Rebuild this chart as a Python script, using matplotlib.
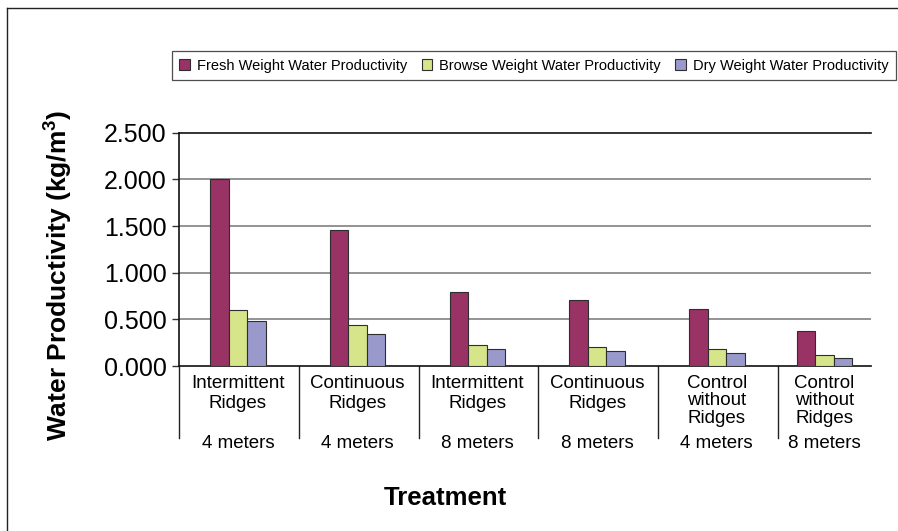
import matplotlib

matplotlib.use("Agg")
import matplotlib.pyplot as plt
from matplotlib.lines import Line2D
from matplotlib.patches import Patch
import numpy as np

plt.rcParams["font.family"] = ["Liberation Sans", "DejaVu Sans"]
plt.rcParams["mathtext.fontset"] = "custom"
plt.rcParams["mathtext.rm"] = "Liberation Sans"
plt.rcParams["mathtext.bf"] = "Liberation Sans:bold"

treatments = [
    "Intermittent\nRidges",
    "Continuous\nRidges",
    "Intermittent\nRidges",
    "Continuous\nRidges",
    "Control\nwithout\nRidges",
    "Control\nwithout\nRidges",
]
spacings = ["4 meters", "4 meters", "8 meters", "8 meters", "4 meters", "8 meters"]

series_names = [
    "Fresh Weight Water Productivity",
    "Browse Weight Water Productivity",
    "Dry Weight Water Productivity",
]
fresh = [2.000, 1.457, 0.790, 0.707, 0.607, 0.379]
browse = [0.603, 0.436, 0.221, 0.200, 0.182, 0.121]
dry = [0.479, 0.343, 0.179, 0.164, 0.143, 0.086]

colors = ["#993366", "#d6e48a", "#9999cc"]
yticks = [0.0, 0.5, 1.0, 1.5, 2.0, 2.5]

fig = plt.figure(figsize=(8.98, 5.31), dpi=100)
ax = fig.add_axes([0.1997, 0.3107, 0.7699, 0.4394])

# the last category is cut off at the right edge in the original
x_max = 5.776
n = len(treatments)
centers = np.arange(n) + 0.49
centers[-1] = (n - 1 + x_max) / 2
bar_w = 0.1545

for k, (vals, color, name) in enumerate(zip([fresh, browse, dry], colors, series_names)):
    ax.bar(
        centers + (k - 1) * bar_w,
        vals,
        width=bar_w,
        color=color,
        edgecolor="#2e2e2e",
        linewidth=0.8,
        label=name,
        zorder=3,
    )

ax.set_xlim(0, x_max)
ax.set_ylim(0, 2.5)
ax.set_yticks(yticks)
ax.set_yticklabels([f"{v:.3f}" for v in yticks], fontsize=18)
ax.tick_params(axis="y", length=5, width=1, color="#333333", pad=4)
ax.set_xticks([])

for v in yticks[1:-1]:
    ax.axhline(v, color="#808080", linewidth=1.2, zorder=1)

ax.spines["right"].set_visible(False)
for side in ("top", "left", "bottom"):
    ax.spines[side].set_color("#111111")
    ax.spines[side].set_linewidth(1.2)

trans = ax.get_xaxis_transform()
for i in range(n):
    ax.plot([i, i], [0, -0.309], transform=trans, color="#222222", linewidth=1.0, clip_on=False)
    n_lines = treatments[i].count("\n") + 1
    ax.text(centers[i], -0.038, treatments[i], transform=trans, ha="center", va="top",
            fontsize=13.5, linespacing=1.27 if n_lines == 2 else 1.04)
    ax.text(centers[i], -0.33, spacings[i], transform=trans, ha="center", va="center",
            fontsize=13.5)

fig.text(0.4955, 0.062, "Treatment", ha="center", va="center", fontsize=18.5, fontweight="bold")
fig.text(0.064, 0.482, r"Water Productivity (kg/m$^{\mathbf{3}}$)", rotation=90,
         ha="center", va="center", fontsize=19, fontweight="bold")

handles = [Patch(facecolor=c, edgecolor="#2e2e2e", linewidth=0.8) for c in colors]
leg = fig.legend(
    handles,
    series_names,
    loc="center",
    bbox_to_anchor=(0.5947, 0.8766),
    ncol=3,
    fontsize=10.5,
    frameon=True,
    fancybox=False,
    edgecolor="#222222",
    handlelength=0.7,
    handleheight=0.7,
    handletextpad=0.5,
    columnspacing=1.0,
    borderpad=0.5,
)
leg.get_frame().set_linewidth(0.9)

# outer frame (only top and left visible in the original)
fig.add_artist(Line2D([0.0081, 0.0081], [0.0, 0.985], color="#222222", linewidth=1.0))
fig.add_artist(Line2D([0.0081, 1.0], [0.985, 0.985], color="#222222", linewidth=1.0))

fig.savefig("out.png", dpi=100, facecolor="white")
